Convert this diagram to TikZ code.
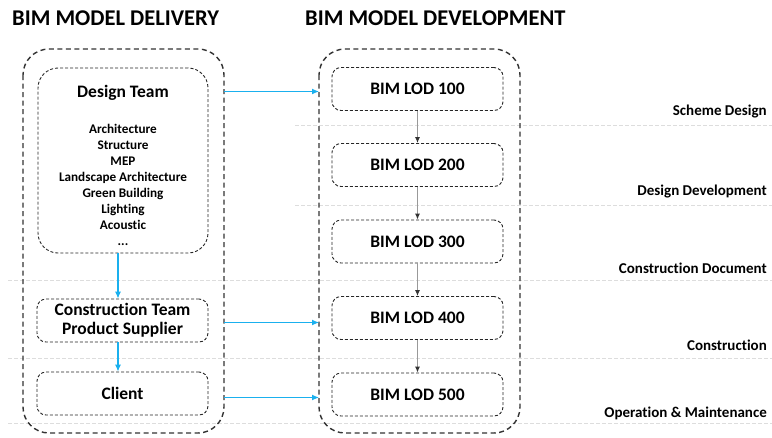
\documentclass[tikz,border=0pt]{standalone}
\usepackage{fontspec}
\setmainfont{Carlito}[Ligatures={NoCommon,NoRare}]
\usetikzlibrary{arrows.meta}
\definecolor{flowblue}{HTML}{1AB0EE}
\definecolor{guide}{HTML}{DDDDDD}
\begin{document}
\begin{tikzpicture}[x=1pt,y=-1pt,
  outerbox/.style={draw=black!80, line width=1.4pt, dash pattern=on 5pt off 3.5pt,
    rounded corners=26pt},
  stagebox/.style={draw=black!85, line width=0.9pt, dash pattern=on 3pt off 2pt,
    rounded corners=9pt, minimum width=171pt, minimum height=43pt, inner sep=0pt,
    font=\fontsize{17.5}{20}\selectfont\bfseries, align=center},
  title/.style={font=\fontsize{22.5}{24}\selectfont\bfseries, anchor=west, inner sep=0pt},
  phase/.style={font=\fontsize{15}{16}\selectfont\bfseries, anchor=east, inner sep=0pt},
  guideline/.style={draw=guide, line width=0.6pt, dash pattern=on 4pt off 2pt},
  bluearrow/.style={draw=flowblue, line width=1.1pt, -{Latex[length=7pt,width=6pt]}},
  grayarrow/.style={draw=black!40, line width=1pt, -{Latex[length=6pt,width=5pt,color=black!80]}},
]
\useasboundingbox (0,0) rectangle (772,437);

% phase separators
\draw[guideline] (295,125) -- (772,125);
\draw[guideline] (295,205) -- (772,205);
\draw[guideline] (8,280) -- (772,280);
\draw[guideline] (8,358) -- (772,358);
\draw[guideline] (8,423) -- (772,423);

% column titles
\node[title] (ttlleft) at (12,18) {BIM MODEL DELIVERY};
\node[title] (ttlright) at (305,18) {BIM MODEL DEVELOPMENT};

% outer containers
\draw[outerbox] (23,49) rectangle (224,433);
\coordinate (louteredge1) at (224,91.5);
\coordinate (louteredge2) at (224,322.5);
\coordinate (louteredge3) at (224,397.5);
\coordinate (routeredge1) at (319,91.5);
\coordinate (routeredge2) at (319,322.5);
\coordinate (routeredge3) at (319,397.5);
\draw[outerbox] (319,49) rectangle (520,433);

% delivery side
\node[stagebox, rounded corners=20pt, minimum width=170pt, minimum height=185pt] (design) at (123,160.5) {};
\node[font=\fontsize{17.5}{20}\selectfont\bfseries, inner sep=0pt] (designtitle) at (123,93) {Design Team};
\node[font=\fontsize{13.2}{16}\selectfont\bfseries, align=center, inner sep=0pt, anchor=north] (disciplines) at (123,124.5)
  {Architecture\\Structure\\MEP\\Landscape Architecture\\Green Building\\Lighting\\Acoustic\\...};
\node[stagebox] (construct) at (122.5,320.5) {Construction Team\\[-1pt]Product Supplier};
\node[stagebox] (client) at (122.5,393.5) {Client};

% development side
\node[stagebox] (lod100) at (417.5,89) {BIM LOD 100};
\node[stagebox] (lod200) at (417.5,165) {BIM LOD 200};
\node[stagebox] (lod300) at (417.5,241.5) {BIM LOD 300};
\node[stagebox] (lod400) at (417.5,318) {BIM LOD 400};
\node[stagebox] (lod500) at (417.5,394.5) {BIM LOD 500};

% phase labels
\node[phase] (ph1) at (767,112) {Scheme Design};
\node[phase] (ph2) at (767,192) {Design Development};
\node[phase] (ph3) at (767,268) {Construction Document};
\node[phase] (ph4) at (767,345) {Construction};
\node[phase] (ph5) at (767,413) {Operation \& Maintenance};

% flow between delivery stages
\draw[bluearrow] (design.south -| 118,0) -- (construct.north -| 118,0);
\draw[bluearrow] (construct.south -| 118,0) -- (client.north -| 118,0);

% hand-over to development
\draw[bluearrow] (louteredge1) -- (routeredge1);
\draw[bluearrow] (louteredge2) -- (routeredge2);
\draw[bluearrow] (louteredge3) -- (routeredge3);

% LOD progression
\draw[grayarrow] (lod100) -- (lod200);
\draw[grayarrow] (lod200) -- (lod300);
\draw[grayarrow] (lod300) -- (lod400);
\draw[grayarrow] (lod400) -- (lod500);
\end{tikzpicture}
\end{document}
